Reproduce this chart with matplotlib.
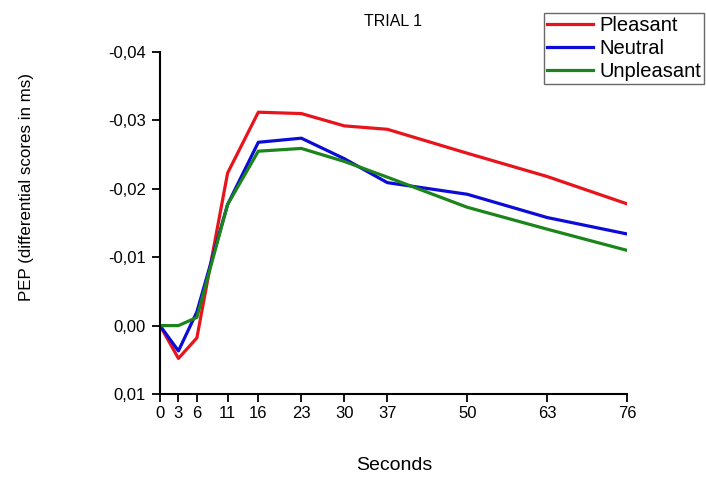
import matplotlib
matplotlib.use('Agg')
import matplotlib.pyplot as plt
import numpy as np
from matplotlib.ticker import FuncFormatter

plt.rcParams['font.family'] = ['Liberation Sans', 'DejaVu Sans']

seconds = [0, 3, 6, 11, 16, 23, 30, 37, 50, 63, 76]
pleasant = [0.0, 0.0048, 0.0018, -0.0223, -0.0312, -0.0310, -0.0292, -0.0287, -0.0252, -0.0218, -0.0178]
neutral = [0.0, 0.0037, -0.0020, -0.0177, -0.0268, -0.0274, -0.0244, -0.0209, -0.0192, -0.0158, -0.0134]
unpleasant = [0.0, 0.0, -0.0012, -0.0177, -0.0255, -0.0259, -0.0240, -0.0217, -0.0173, -0.0141, -0.0110]
yticks = [0.01, 0.0, -0.01, -0.02, -0.03, -0.04]

fig = plt.figure(figsize=(7.06, 4.79), dpi=100)
ax = fig.add_axes([160/706, 1-394/479, (627-160)/706, (394-52)/479])

ax.plot(seconds, pleasant, color='#e8141c', lw=2.3, label='Pleasant')
ax.plot(seconds, neutral, color='#0c0cd6', lw=2.3, label='Neutral')
ax.plot(seconds, unpleasant, color='#1b841b', lw=2.3, label='Unpleasant')

ax.set_xlim(0, 76)
ax.set_ylim(0.01, -0.04)
ax.set_xticks(seconds)
ax.set_yticks(yticks)
ax.yaxis.set_major_formatter(FuncFormatter(lambda v, p: ('%.2f' % v).replace('.', ',').replace('-0,00', '0,00')))

for s in ['top', 'right']:
    ax.spines[s].set_visible(False)
for s in ['left', 'bottom']:
    ax.spines[s].set_linewidth(1.5)
ax.tick_params(direction='out', length=6, width=1.3, labelsize=12, colors='black')
ax.tick_params(axis='y', pad=4)
ax.tick_params(axis='x', pad=3)

fig.text(393/706, 1-22/479, 'TRIAL 1', ha='center', va='center', fontsize=11.5)
fig.text(394/706, 1-465/479, 'Seconds', ha='center', va='center', fontsize=14)
fig.text(27/706, 1-187/479, 'PEP (differential scores in ms)', ha='center', va='center',
         rotation=90, fontsize=12.2)

leg = ax.legend(loc='upper right', bbox_to_anchor=(704/706, 1-13/479), bbox_transform=fig.transFigure,
                fontsize=14.5, frameon=True, fancybox=False, handlelength=2.3, handletextpad=0.3,
                labelspacing=0.2, borderpad=0.15, borderaxespad=0)
leg.get_frame().set_edgecolor('#444444')
leg.get_frame().set_linewidth(1.0)

fig.savefig('out.png', dpi=100)
